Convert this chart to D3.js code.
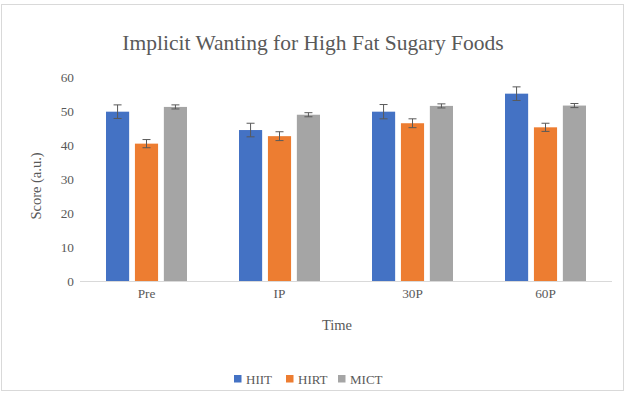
<!DOCTYPE html>
<html>
<head>
<meta charset="utf-8">
<script src="https://cdn.jsdelivr.net/npm/d3@7"></script>
<style>
  body { margin: 0; background: #fff; }
  text { font-family: "Liberation Serif", "Times New Roman", serif; fill: #595959; }
</style>
</head>
<body>
<svg id="chart" width="630" height="396"></svg>
<script>
const categories = ["Pre", "IP", "30P", "60P"];
const groups = ["HIIT", "HIRT", "MICT"];
// mean scores per time point
const hiit = [49.8, 44.4, 49.8, 55.1];
const hirt = [40.4, 42.6, 46.4, 45.2];
const mict = [51.2, 48.9, 51.5, 51.6];
// error bar half-widths
const hiitErr = [2.0, 2.0, 2.1, 2.0];
const hirtErr = [1.2, 1.3, 1.3, 1.2];
const mictErr = [0.6, 0.6, 0.6, 0.6];
const yTicks = [0, 10, 20, 30, 40, 50, 60];

const colors = { HIIT: "#4472C4", HIRT: "#ED7D31", MICT: "#A5A5A5" };

const svg = d3.select("#chart");

// outer chart frame
svg.append("rect")
    .attr("x", 1.5).attr("y", 4.5)
    .attr("width", 622).attr("height", 386)
    .attr("fill", "#fff")
    .attr("stroke", "#d9d9d9");

const margin = { left: 80, right: 612, top: 77, bottom: 281 };

const x = d3.scaleBand()
    .domain(categories)
    .range([margin.left, margin.right]);

const xInner = d3.scaleBand()
    .domain(groups)
    .range([0, 81])
    .paddingInner(0.2);

const y = d3.scaleLinear()
    .domain([0, 60])
    .range([margin.bottom, margin.top]);

// build rows from the arrays
const series = groups.map((g, gi) => {
    const vals = [hiit, hirt, mict][gi];
    const errs = [hiitErr, hirtErr, mictErr][gi];
    return categories.map((c, i) => ({ group: g, cat: c, value: vals[i], err: errs[i] }));
});

// title
svg.append("text")
    .attr("x", 313).attr("y", 50)
    .attr("text-anchor", "middle")
    .attr("font-size", 21.5)
    .text("Implicit Wanting for High Fat Sugary Foods");

// y axis labels (no axis line)
const yAxis = svg.append("g")
    .attr("transform", `translate(${margin.left},0)`)
    .call(d3.axisLeft(y).tickValues(yTicks).tickSize(0).tickPadding(6));
yAxis.select(".domain").remove();
yAxis.selectAll("text")
    .style("font-size", "13.3px")
    .style("font-family", "'Liberation Serif', serif")
    .style("fill", "#595959");

// baseline
svg.append("line")
    .attr("x1", margin.left).attr("x2", margin.right)
    .attr("y1", y(0) + 0.5).attr("y2", y(0) + 0.5)
    .attr("stroke", "#d9d9d9");

// bars
const catG = svg.append("g").selectAll("g")
    .data(series.flat())
    .join("g")
    .attr("transform", d => `translate(${x(d.cat) + (x.bandwidth() - 81) / 2},0)`);

catG.append("rect")
    .attr("x", d => xInner(d.group))
    .attr("y", d => y(d.value))
    .attr("width", xInner.bandwidth())
    .attr("height", d => y(0) - y(d.value))
    .attr("fill", d => colors[d.group]);

// error bars
const errG = catG.append("g")
    .attr("stroke", "#595959")
    .attr("stroke-width", 1)
    .attr("fill", "none");
errG.append("line")
    .attr("x1", d => xInner(d.group) + xInner.bandwidth() / 2)
    .attr("x2", d => xInner(d.group) + xInner.bandwidth() / 2)
    .attr("y1", d => y(d.value + d.err))
    .attr("y2", d => y(d.value - d.err));
errG.append("line")
    .attr("x1", d => xInner(d.group) + xInner.bandwidth() / 2 - 4)
    .attr("x2", d => xInner(d.group) + xInner.bandwidth() / 2 + 4)
    .attr("y1", d => y(d.value + d.err))
    .attr("y2", d => y(d.value + d.err));
errG.append("line")
    .attr("x1", d => xInner(d.group) + xInner.bandwidth() / 2 - 4)
    .attr("x2", d => xInner(d.group) + xInner.bandwidth() / 2 + 4)
    .attr("y1", d => y(d.value - d.err))
    .attr("y2", d => y(d.value - d.err));

// x axis labels
const xAxis = svg.append("g")
    .attr("transform", `translate(0,${margin.bottom})`)
    .call(d3.axisBottom(x).tickSize(0).tickPadding(8));
xAxis.select(".domain").remove();
xAxis.selectAll("text")
    .style("font-size", "13.3px")
    .style("font-family", "'Liberation Serif', serif")
    .style("fill", "#595959");

// axis titles
svg.append("text")
    .attr("x", 337).attr("y", 330)
    .attr("text-anchor", "middle")
    .attr("font-size", 14.5)
    .text("Time");

svg.append("text")
    .attr("transform", "translate(41,186) rotate(-90)")
    .attr("text-anchor", "middle")
    .attr("font-size", 14.5)
    .text("Score (a.u.)");

// legend
const legendX = [234, 286, 338];
const legend = svg.append("g").selectAll("g")
    .data(groups)
    .join("g")
    .attr("transform", (d, i) => `translate(${legendX[i]},375)`);
legend.append("rect")
    .attr("width", 7.5).attr("height", 7.5)
    .attr("fill", d => colors[d]);
legend.append("text")
    .attr("x", 12).attr("y", 8.5)
    .attr("font-size", 13)
    .text(d => d);
</script>
</body>
</html>
